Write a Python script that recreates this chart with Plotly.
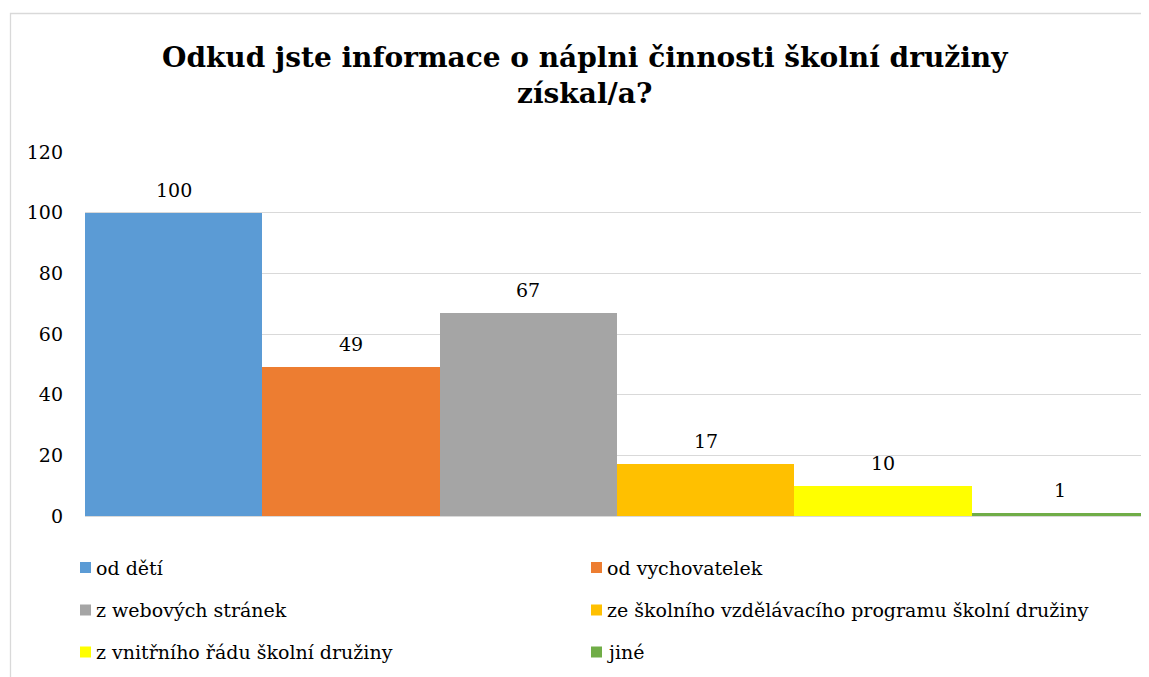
import plotly.graph_objects as go

categories = ["od dětí", "od vychovatelek", "z webových stránek",
              "ze školního vzdělávacího programu školní družiny",
              "z vnitřního řádu školní družiny", "jiné"]
values = [100, 49, 67, 17, 10, 1]
colors = ["#5B9BD5", "#ED7D31", "#A5A5A5", "#FFC000", "#FFFF00", "#70AD47"]
y_ticks = [0, 20, 40, 60, 80, 100, 120]
title_text = "<b>Odkud jste informace o náplni činnosti školní družiny<br>získal/a?</b>"

FONT = "DejaVu Serif"
SMALL = 19
OFF = 8  # page body margin offset
W, H = 1149, 677
L, R, T, B = 85 - OFF, 16 - OFF, 152 - OFF, 161 + OFF
pw, ph = W - L - R, H - T - B

def px_x(px):
    return (px - OFF - L) / pw

def px_y(py):
    return (H - B - (py - OFF)) / ph

fig = go.Figure()
for i, (c, v, col) in enumerate(zip(categories, values, colors)):
    fig.add_trace(go.Bar(x=[c], y=[v], marker=dict(color=col, line=dict(width=0)),
                         showlegend=False, hoverinfo="x+y"))
    fig.add_annotation(x=c, y=v, text=str(v), showarrow=False, yanchor="bottom",
                       yshift=10, font=dict(family=FONT, size=SMALL, color="#000000"))

leg_cols = [80, 591]
leg_rows = [567.5, 610, 652]
for i, (c, col) in enumerate(zip(categories, colors)):
    cx = leg_cols[i % 2]
    cy = leg_rows[i // 2]
    fig.add_shape(type="rect", xref="paper", yref="paper",
                  x0=px_x(cx), x1=px_x(cx + 11), y0=px_y(cy - 5.5), y1=px_y(cy + 5.5),
                  fillcolor=col, line=dict(width=0))
    fig.add_annotation(xref="paper", yref="paper", x=px_x(cx + 14), y=px_y(cy),
                       xanchor="left", yanchor="middle", text=c, showarrow=False,
                       font=dict(family=FONT, size=SMALL, color="#000000"))

fig.add_shape(type="rect", xref="paper", yref="paper",
              x0=px_x(10.5), x1=px_x(1200), y0=px_y(720), y1=px_y(13.5),
              line=dict(color="#D9D9D9", width=1.3), fillcolor="rgba(0,0,0,0)", layer="below")

# title as annotation
fig.add_annotation(xref="paper", yref="paper", x=px_x(585), y=px_y(39),
                   xanchor="center", yanchor="top", text=title_text, showarrow=False,
                   font=dict(family=FONT, size=28, color="#000000"))

fig.update_layout(
    width=W, height=H,
    margin=dict(l=L, r=R, t=T, b=B),
    paper_bgcolor="white", plot_bgcolor="white",
    bargap=0, barmode="overlay",
    font=dict(family=FONT, color="#000000"),
    xaxis=dict(showticklabels=False, showgrid=False, zeroline=False, showline=False,
               ticks="", categoryorder="array", categoryarray=categories),
    yaxis=dict(range=[0, 120], tickvals=y_ticks, showgrid=True, gridcolor="#D9D9D9",
               gridwidth=1, zeroline=True, zerolinecolor="#D9D9D9", showline=False,
               ticks="", ticklabelstandoff=21,
               tickfont=dict(family=FONT, size=SMALL, color="#000000")),
)

fig.write_html("out.html")
